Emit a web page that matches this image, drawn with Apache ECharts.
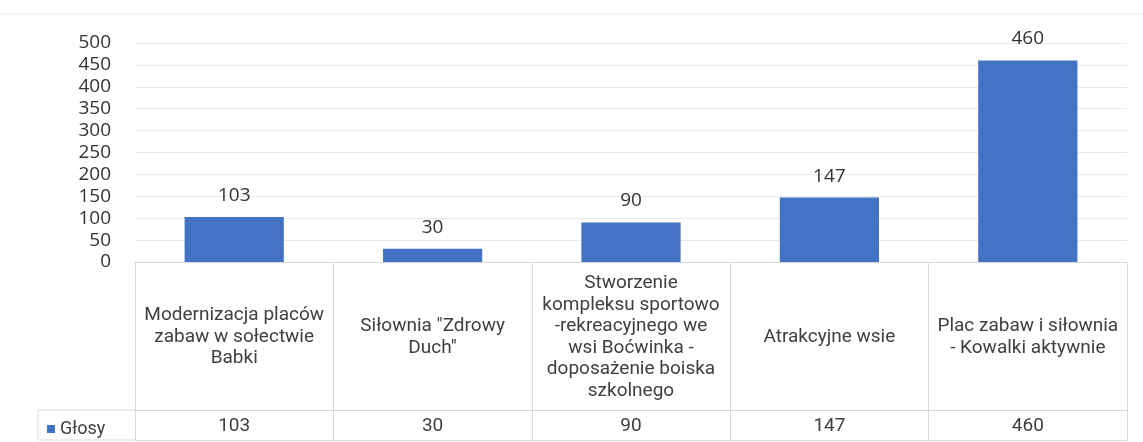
<!DOCTYPE html>
<html>
<head>
<meta charset="utf-8">
<script src="https://cdn.jsdelivr.net/npm/echarts@6/dist/echarts.min.js"></script>
<style>
html,body{margin:0;padding:0;background:#fff;}
#chart{width:1143px;height:442px;}
</style>
</head>
<body>
<div id="chart"></div>
<script>
// Data
const categories = [
  'Modernizacja placów\nzabaw w sołectwie\nBabki',
  'Siłownia "Zdrowy\nDuch"',
  'Stworzenie\nkompleksu sportowo\n-rekreacyjnego we\nwsi Boćwinka -\ndoposażenie boiska\nszkolnego',
  'Atrakcyjne wsie',
  'Plac zabaw i siłownia\n- Kowalki aktywnie'
];
const seriesName = 'Głosy';
const votes = [103, 30, 90, 147, 460];
const yTicks = { min: 0, max: 500, interval: 50 };

const lineColor = '#d9d9d9';
const chart = echarts.init(document.getElementById('chart'));
const option = {
  animation: false,
  backgroundColor: '#fff',
  grid: { left: 135, right: 16, top: 43, bottom: 180 },
  legend: {
    data: [seriesName],
    left: 42, top: 415,
    icon: 'rect', itemWidth: 8, itemHeight: 8, itemGap: 3,
    textStyle: { fontFamily: 'Roboto', fontSize: 18, color: '#404040' }
  },
  yAxis: {
    type: 'value', min: yTicks.min, max: yTicks.max, interval: yTicks.interval,
    axisLine: { show: false }, axisTick: { show: false },
    axisLabel: { fontFamily: 'Open Sans', fontSize: 19, color: '#333', margin: 24 },
    splitLine: { lineStyle: { color: '#e8e8e8' } }
  },
  xAxis: [
    {
      type: 'category', data: categories, position: 'bottom',
      axisLine: { lineStyle: { color: lineColor } },
      axisTick: { show: true, length: 178, interval: 0, lineStyle: { color: lineColor } },
      axisLabel: {
        interval: 0, margin: 75, verticalAlign: 'middle', lineHeight: 21.5,
        fontFamily: 'Roboto', fontSize: 19, color: '#404040', align: 'center'
      }
    },
    {
      type: 'category', data: votes.map(String), position: 'bottom', offset: 148,
      axisLine: { lineStyle: { color: lineColor } },
      axisTick: { show: false },
      axisLabel: { interval: 0, margin: 16, verticalAlign: 'middle',
        fontFamily: 'Roboto', fontSize: 19, color: '#404040' }
    },
    {
      type: 'category', data: votes.map(String), position: 'bottom', offset: 178,
      axisLine: { lineStyle: { color: lineColor } },
      axisTick: { show: false }, axisLabel: { show: false }
    }
  ],
  graphic: [
    { type: 'line', shape: { x1: 38, y1: 410, x2: 135, y2: 410 }, style: { stroke: lineColor, lineWidth: 1 } },
    { type: 'line', shape: { x1: 38, y1: 440, x2: 135, y2: 440 }, style: { stroke: lineColor, lineWidth: 1 } },
    { type: 'line', shape: { x1: 38, y1: 410, x2: 38, y2: 440 }, style: { stroke: lineColor, lineWidth: 1 } },
    { type: 'line', shape: { x1: 0, y1: 14, x2: 1143, y2: 14 }, style: { stroke: '#e6e6e6', lineWidth: 1 } }
  ],
  series: [{
    name: seriesName, type: 'bar', xAxisIndex: 0, data: votes, barWidth: '50%',
    itemStyle: { color: '#4472c4' },
    label: { show: true, position: 'top', distance: 12,
      fontFamily: 'Open Sans', fontSize: 19, color: '#333' }
  }]
};
chart.setOption(option);
</script>
</body>
</html>
